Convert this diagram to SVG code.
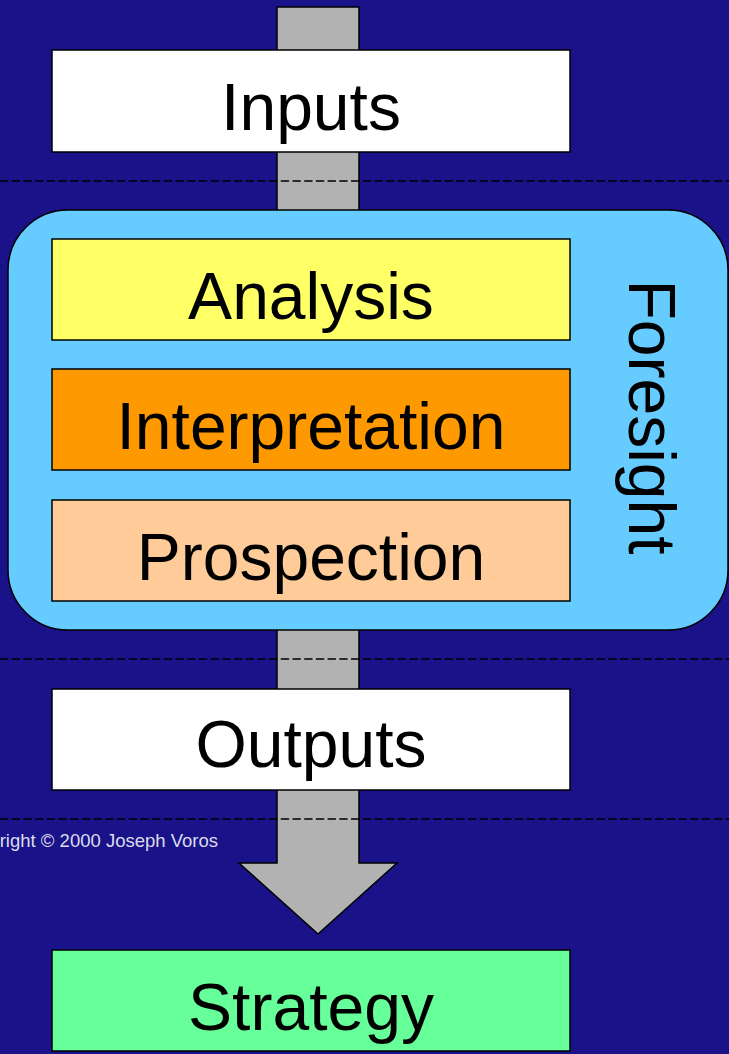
<svg xmlns="http://www.w3.org/2000/svg" width="729" height="1054" viewBox="0 0 729 1054">
<style>
.box{stroke:#000;stroke-width:1.5}
.lbl{font-family:"Liberation Sans",Arial,sans-serif;font-size:66px;fill:#000;text-anchor:middle}
.dash{stroke:#000;stroke-width:1.5;stroke-dasharray:8.3 3.4;fill:none}
</style>
<rect x="0" y="0" width="729" height="1054" fill="#1a1289"/>
<g id="connectors">
<polygon points="277,7 359,7 359,863 397,863 318,934 239,863 277,863" fill="#b2b2b2" stroke="#000" stroke-width="1.5" stroke-linejoin="miter"/>
</g>
<g id="inputs">
<rect class="box" x="52" y="50" width="518" height="102" fill="#fff"/>
<text class="lbl" x="311" y="130">Inputs</text>
</g>
<g id="foresight">
<rect class="box" x="8" y="210" width="720" height="420" rx="60" ry="60" fill="#66ccff"/>
<text class="lbl" transform="translate(629,417) rotate(90)" x="0" y="0">Foresight</text>
</g>
<g id="analysis">
<rect class="box" x="52" y="239" width="518" height="101" fill="#ffff66"/>
<text class="lbl" x="311" y="319">Analysis</text>
</g>
<g id="interpretation">
<rect class="box" x="52" y="369" width="518" height="101" fill="#ff9900"/>
<text class="lbl" x="311" y="449">Interpretation</text>
</g>
<g id="prospection">
<rect class="box" x="52" y="500" width="518" height="101" fill="#ffcc99"/>
<text class="lbl" x="311" y="580">Prospection</text>
</g>
<g id="outputs">
<rect class="box" x="52" y="689" width="518" height="101" fill="#fff"/>
<text class="lbl" x="311" y="767">Outputs</text>
</g>
<g id="strategy">
<rect class="box" x="52" y="950" width="518" height="101" fill="#66ff99"/>
<text class="lbl" x="311" y="1030">Strategy</text>
</g>
<g id="dividers">
<line class="dash" x1="0" y1="181" x2="729" y2="181"/>
<line class="dash" x1="0" y1="659" x2="729" y2="659"/>
<line class="dash" x1="0" y1="819" x2="729" y2="819"/>
</g>
<text x="218" y="847" font-family="'Liberation Sans',Arial,sans-serif" font-size="18.5" fill="#dcdcec" text-anchor="end">Copyright © 2000 Joseph Voros</text>
</svg>
